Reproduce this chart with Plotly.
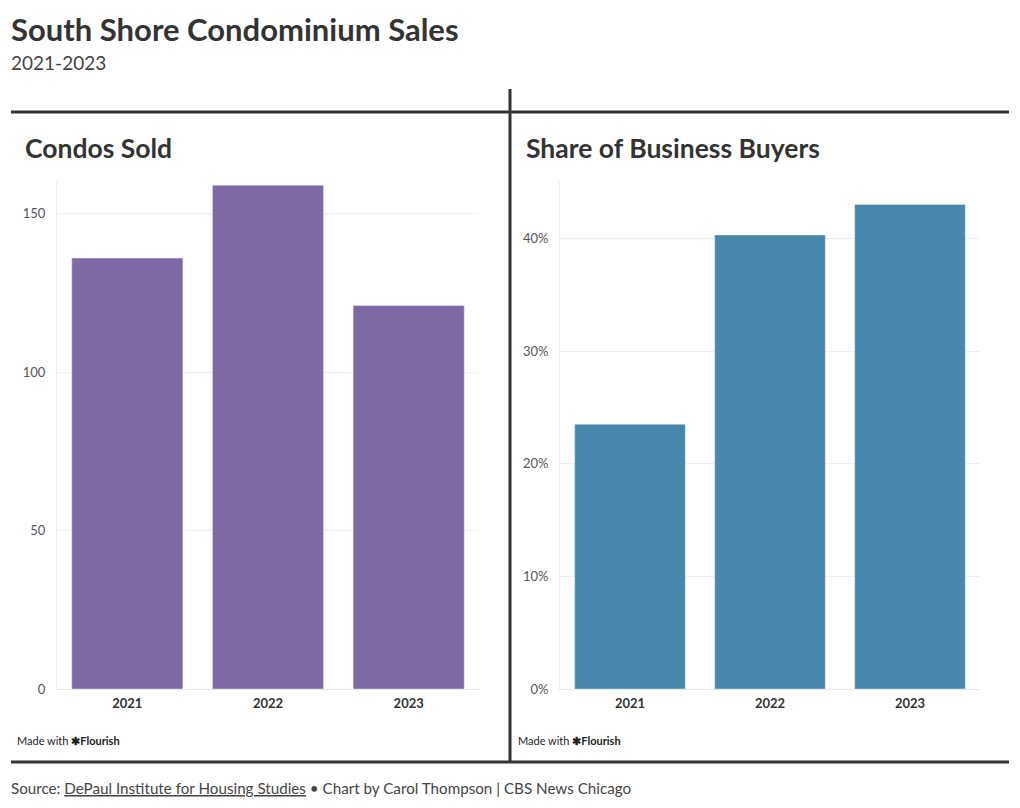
import plotly.graph_objects as go

years = ["2021", "2022", "2023"]
condos_sold = [136, 159, 121]
business_share = [23.5, 40.3, 43.0]
left_ticks = [0, 50, 100, 150]
right_ticks = [0, 10, 20, 30, 40]
right_tick_labels = ["0%", "10%", "20%", "30%", "40%"]

W, H = 1020, 808
FONT = "Source Sans Pro, Lato, Noto Sans, sans-serif"

def px(x):
    return x / W

def py(y):
    return 1 - y / H

fig = go.Figure()
fig.add_trace(go.Bar(x=years, y=condos_sold, marker_color="#7e69a5", xaxis="x", yaxis="y",
                     hoverinfo="x+y"))
fig.add_trace(go.Bar(x=years, y=business_share, marker_color="#4787ab", xaxis="x2", yaxis="y2",
                     hoverinfo="x+y"))

axis_common = dict(showgrid=True, gridcolor="#eeeeee", gridwidth=1, zeroline=False,
                   tickfont=dict(family=FONT, size=13, color="#555555"), ticks="",
                   fixedrange=True, automargin=False)
xcommon = dict(showgrid=False, zeroline=False, showline=True, linecolor="#e6e6e6", linewidth=1,
               tickfont=dict(family=FONT, size=13, color="#333333", weight="bold"), ticks="",
               fixedrange=True, automargin=False, ticklabelstandoff=2)

fig.update_layout(
    width=W, height=H,
    margin=dict(l=0, r=0, t=0, b=0, pad=0, autoexpand=False),
    paper_bgcolor="white", plot_bgcolor="white",
    showlegend=False,
    bargap=0.21,
    font=dict(family=FONT, color="#333333"),
    xaxis=dict(domain=[px(57), px(479)], anchor="y", **xcommon),
    yaxis=dict(domain=[py(689), py(182)], anchor="x", range=[0, 160], tickvals=left_ticks,
               showline=True, linecolor="#eeeeee", linewidth=1, ticklabelstandoff=8, **axis_common),
    xaxis2=dict(domain=[px(560), px(980)], anchor="y2", **xcommon),
    yaxis2=dict(domain=[py(689), py(182)], anchor="x2", range=[0, 45], tickvals=right_ticks,
                ticktext=right_tick_labels, showline=True, linecolor="#eeeeee", linewidth=1,
                ticklabelstandoff=8, **axis_common),
)

line = dict(color="#333333", width=3)
fig.add_shape(type="line", xref="paper", yref="paper", x0=px(11), x1=px(1009), y0=py(112), y1=py(112), line=line)
fig.add_shape(type="line", xref="paper", yref="paper", x0=px(11), x1=px(1009), y0=py(762), y1=py(762), line=line)
fig.add_shape(type="line", xref="paper", yref="paper", x0=px(510), x1=px(510), y0=py(89), y1=py(762), line=line)

def text(x, y, s, size, color="#333333", bold=False, yanchor="middle"):
    fig.add_annotation(xref="paper", yref="paper", x=px(x), y=py(y), text=s, showarrow=False,
                       xanchor="left", yanchor=yanchor,
                       font=dict(family=FONT, size=size, color=color, weight="bold" if bold else "normal"))

text(9, 29, "South Shore Condominium Sales", 31, bold=True)
text(9, 63, "2021-2023", 19, color="#444444")
text(23, 148, "Condos Sold", 26.5, bold=True)
text(524, 148, "Share of Business Buyers", 26.5, bold=True)
text(15, 740, "Made with <b>✱Flourish</b>", 11, color="#222222")
text(516, 740, "Made with <b>✱Flourish</b>", 11, color="#222222")
text(9, 788, "Source: <u>DePaul Institute for Housing Studies</u> • Chart by Carol Thompson | CBS News Chicago", 15.2, color="#444444")

fig.write_html("out.html", config={"displayModeBar": False},
               post_script="document.body.style.margin='0';")
